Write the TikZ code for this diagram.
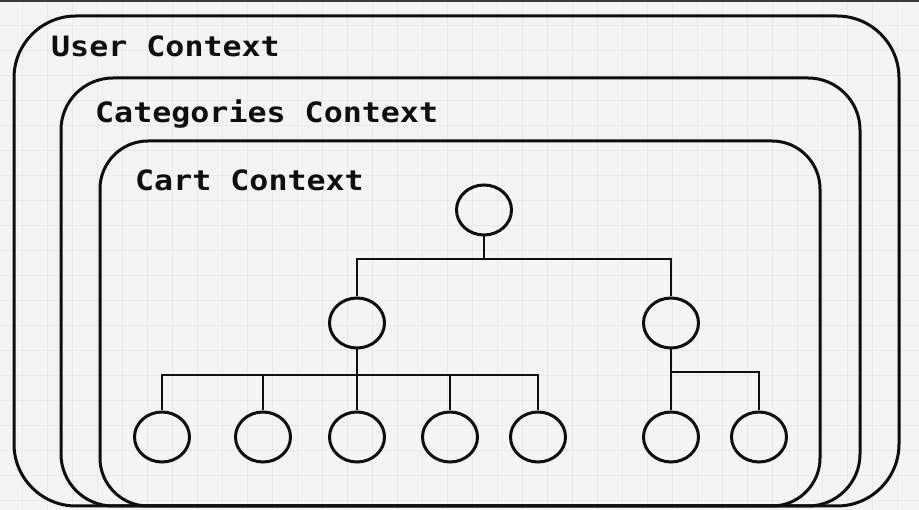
\documentclass[tikz,border=0pt]{standalone}
\usepackage{fontspec}
\usetikzlibrary{shapes.geometric}
\newfontfamily\lblfont{DejaVu Sans Mono}[FakeStretch=1.13]
\definecolor{bgc}{HTML}{F4F4F4}
\definecolor{gridc}{HTML}{EAEAEA}
\definecolor{ink}{HTML}{0E0E0E}
\definecolor{topbar}{HTML}{3A3A3A}
\tikzset{
  ctxbox/.style={draw=ink, line width=3pt},
  ctxlabel/.style={anchor=base west, inner sep=0pt, text=ink, font=\lblfont\bfseries\fontsize{28}{30}\selectfont},
  nd/.style={draw=ink, ellipse, minimum width=55pt, minimum height=50pt, inner sep=0pt, line width=3pt, fill=none},
  link/.style={draw=ink, line width=2.6pt}
}
\begin{document}
\begin{tikzpicture}[x=1pt,y=-1pt]
\useasboundingbox (0,0) rectangle (919,510);
\fill[bgc] (0,0) rectangle (919,510);
\foreach \gx in {22,47,...,919} \draw[gridc, line width=0.8pt] (\gx,0) -- (\gx,510);
\foreach \gy in {0,25,...,510} \draw[gridc, line width=0.8pt] (0,\gy) -- (919,\gy);
\fill[topbar] (0,0) rectangle (919,2.5);

% context boxes
\draw[ctxbox, rounded corners=62pt] (14,16) rectangle (899,506);
\draw[ctxbox, rounded corners=52pt] (61,78) rectangle (860,506);
\draw[ctxbox, rounded corners=48pt] (100,141) rectangle (820,506);

\node[ctxlabel] (lu) at (51,57) {User Context};
\node[ctxlabel] (lc) at (95,123) {Categories Context};
\node[ctxlabel] (lk) at (135,191) {Cart Context};

% tree nodes
\node[nd] (root) at (484,210) {};
\node[nd] (L) at (357,323) {};
\node[nd] (R) at (671,323) {};
\node[nd] (b1) at (162,437) {};
\node[nd] (b2) at (263,437) {};
\node[nd] (b3) at (357,437) {};
\node[nd] (b4) at (450,437) {};
\node[nd] (b5) at (538,437) {};
\node[nd] (b6) at (671,437) {};
\node[nd] (b7) at (759,437) {};

\coordinate (j1) at (484,259);
\coordinate (j2) at (357,375);
\coordinate (j3) at (671,372);

\draw[link] (root.south) -- (j1);
\draw[link] (L.north) |- (j1) -| (R.north);
\draw[link] (L.south) -- (b3.north);
\draw[link] (b1.north) |- (j2) -| (b5.north);
\draw[link] (b2.north) -- (b2.north |- j2);
\draw[link] (b4.north) -- (b4.north |- j2);
\draw[link] (R.south) -- (b6.north);
\draw[link] (j3) -| (b7.north);
\end{tikzpicture}
\end{document}
